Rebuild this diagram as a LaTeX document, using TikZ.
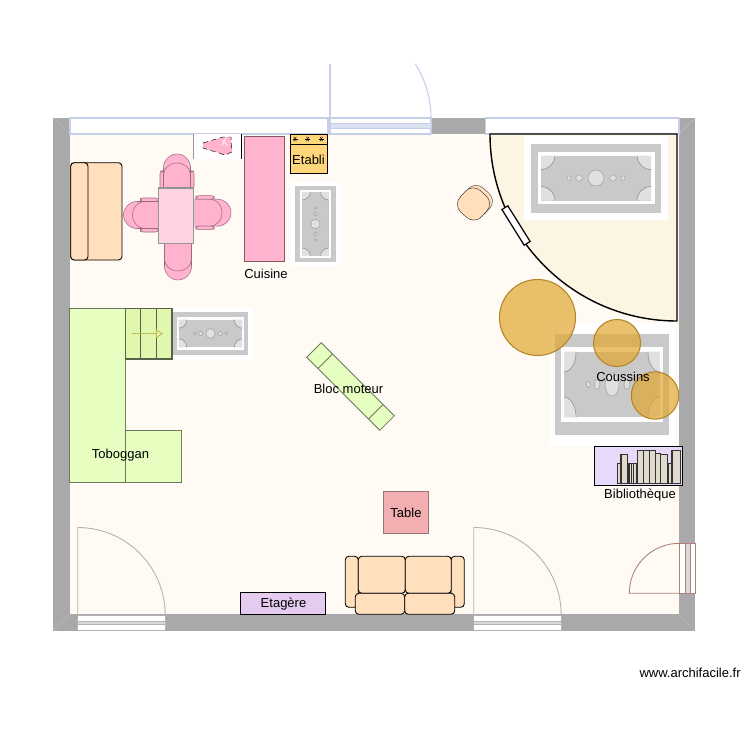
\documentclass[tikz,border=0pt]{standalone}
\usepackage{fontspec}
\setmainfont{Liberation Sans}
\usetikzlibrary{arrows.meta}
\definecolor{wallgray}{HTML}{A9A9A9}
\definecolor{floorcol}{HTML}{FFFAF3}
\definecolor{sofacol}{HTML}{FFDFBC}
\definecolor{pinkcol}{HTML}{FFB3CE}
\definecolor{tablepink}{HTML}{FFD3DF}
\definecolor{greencol}{HTML}{E6FFC1}
\definecolor{stepcol}{HTML}{E2F7AE}
\definecolor{greenline}{HTML}{6E7B5A}
\definecolor{bluecol}{HTML}{C5CFE8}
\definecolor{goldcol}{HTML}{E0A631}
\definecolor{partcol}{HTML}{FCF5E4}
\definecolor{benchcol}{HTML}{FFD77A}
\definecolor{redtable}{HTML}{F2AEB0}
\definecolor{shelfcol}{HTML}{E5CBF0}
\definecolor{bookcase}{HTML}{E6D9FA}
\definecolor{bookcol}{HTML}{E0DACC}
\definecolor{browncol}{HTML}{AD8379}

\newcommand{\rug}[5]{
\begin{scope}[shift={(#1,#2)},rotate=#5,xscale=#3,yscale=#4]
\fill[white] (-72,-42) rectangle (72,42);
\fill[black!21] (-65,-34.5) rectangle (65,34.5);
\fill[white] (-58.5,-26) rectangle (58.5,26);
\fill[black!21] (-55,-22.5) rectangle (55,22.5);
\foreach \u in {-1,1}
  \foreach \v in {-1,1}{
    \fill[black!12,xscale=\u,yscale=\v] (55,22.5) -- (41,22.5) arc (180:270:14) -- cycle;
    \draw[black!45,line width=0.3pt,xscale=\u,yscale=\v] (41,22.5) arc (180:270:14);
  }
\draw[rugline] (0,0) circle (8);
\foreach \u in {-1,1}{
  \draw[rugline] (\u*17,0) circle (3.3);
  \draw[rugline] (\u*27,0) circle (2.2);
}
\end{scope}
}

\newcommand{\chair}[3]{
\begin{scope}[shift={(#1,#2)},rotate=#3]
\draw[chairline] (-13.5,18) -- (-13.5,-4.5) arc (180:360:13.5) -- (13.5,18) -- cycle;
\draw[chairline] (-13.5,18) -- (-13.5,3) arc (180:360:13.5 and 12) -- (13.5,18);
\end{scope}
}

\newcommand{\chairarms}[3]{
\begin{scope}[shift={(#1,#2)},rotate=#3]
\draw[chairline,rounded corners=1.5] (-17,-1) rectangle (-13.5,17);
\draw[chairline,rounded corners=1.5] (13.5,-1) rectangle (17,17);
\end{scope}
}

\begin{document}
\begin{tikzpicture}[x=0.02cm,y=0.02cm,yscale=-1,
wall/.style = {fill=wallgray},
door/.style = {line width=0.5pt,draw=black!30},
sofa/.style = {fill=sofacol,draw=black,line width=0.5pt,rounded corners=2},
rugline/.style = {draw=black!40,fill=black!12,line width=0.25pt},
chairline/.style = {fill=pinkcol,draw=pinkcol!60!black,line width=0.3pt},
green/.style = {fill=greencol,draw=greenline,line width=0.5pt},
label/.style = {inner sep=0pt,font=\fontsize{7.4}{8}\selectfont},
cushion/.style = {fill=goldcol,fill opacity=0.7,draw=goldcol!80!black,line width=0.6pt}]
\useasboundingbox (0,0) rectangle (750,750);
\fill[white] (0,0) rectangle (750,750);

\fill[wall] (53,118) rectangle (695,631);
\fill[floorcol] (70,134) rectangle (679,614);
\foreach \a/\b/\c/\d in {53/118/70/134,695/118/679/134,53/631/70/614,695/631/679/614}
  \draw[black!27,line width=0.3pt] (\a,\b) -- (\c,\d);

\draw[fill=white,draw=bluecol,line width=0.6pt] (70,118) rectangle (328,134);
\draw[fill=white,draw=bluecol,line width=0.6pt] (485.5,118) rectangle (679,134);
\draw[fill=white,draw=bluecol,line width=0.6pt] (330,118) rectangle (431,134);
\draw[fill=bluecol!60,draw=bluecol,line width=0.4pt] (330,123) rectangle (431,128.5);
\draw[bluecol,line width=0.6pt] (330,118) -- (330,64);
\draw[bluecol,line width=0.6pt] (431,118) arc (0:-32.3:101);

\draw[fill=white,door] (77.7,615) rectangle (165,630.3);
\draw[fill=black!15,door] (77.7,621.3) rectangle (165,624.3);
\draw[door] (77.7,615) -- (77.7,527.5) arc (-90:0:87.5);
\draw[fill=white,door] (473.7,615) rectangle (561,630.3);
\draw[fill=black!15,door] (473.7,621.3) rectangle (561,624.3);
\draw[door] (473.7,615) -- (473.7,527.5) arc (-90:0:87.5);

\draw[fill=white,draw=browncol,line width=0.5pt] (679.3,543.3) rectangle (695.3,593.3);
\draw[fill=black!15,draw=browncol,line width=0.4pt] (685,543.3) rectangle (690,593.3);
\draw[browncol,line width=0.5pt] (679.3,593.3) -- (629.3,593.3) arc (180:270:50);

\draw[fill=partcol,line width=0.8pt] (490,134) -- (677,134) -- (677,321) arc (90:180:187) -- cycle;
\draw[fill=white,line width=0.7pt,rotate around={58:(516,225.5)}] (495,222) rectangle (537,229);

\rug{596}{178}{1}{1}{0}
\rug{315.5}{224}{0.585}{0.595}{90}
\rug{210.5}{333.5}{0.58}{0.62}{0}
\rug{612}{384.5}{0.877}{1.46}{0}

\draw[sofa] (70.7,162.7) rectangle (122,260);
\draw[sofa] (70.7,162.7) rectangle (88,260);

\chair{177}{172}{0}
\chairarms{177}{172}{0}
\chair{178}{262}{180}
\chair{141.5}{215}{270}
\chairarms{141.5}{215}{270}
\chair{213}{212.7}{90}
\chairarms{213}{212.7}{90}
\draw[fill=tablepink,draw=black!42,line width=0.8pt] (158.7,188) rectangle (193.7,243.7);

\fill[white] (193,134) rectangle (241.5,159);
\draw[black!40,line width=0.3pt] (193,134) -- (193,159);
\draw[line width=0.4pt] (241.5,134) -- (241.5,159);
\draw[fill=pinkcol,line width=0.25pt,densely dashed] (203,143) -- (223,137) -- (231,137) -- (232,152) -- (225,155) -- (203,148) -- cycle;
\draw[white,line width=0.4pt] (222,140) -- (228,146) (226,138) -- (222,145);

\draw[fill=pinkcol,draw=pinkcol!50!black,line width=0.6pt] (244.3,136.3) rectangle (284.7,261.7);
\node[label] (cuisine) at (266,274) {Cuisine};

\draw[fill=benchcol,line width=0.5pt] (290,134.3) rectangle (327,173.3);
\draw[line width=0.5pt] (290,144) -- (327,144);
\foreach \x in {295,307.7,321.3}
  \foreach \r in {0,60,120}
    \draw[line width=0.3pt,rotate around={\r:(\x,139)}] (\x-2.5,139) -- (\x+2.5,139);
\node[label] (etabli) at (308.5,160) {Etabli};

\draw[black!70,fill=sofacol,line width=0.25pt,rounded corners=6,rotate around={42:(477,200)}] (463,187) rectangle (492,215);
\draw[black!80,line width=0.25pt,rounded corners=6,fill=sofacol,rotate around={42:(473.5,204)}] (459,189.5) rectangle (488,218.5);

\draw[green] (69.3,308) rectangle (125.3,482.3);
\draw[green] (125.3,430) rectangle (181,482.7);
\draw[fill=stepcol,draw=greenline!80!black,line width=0.6pt] (125.3,308.3) rectangle (172,359);
\draw[greenline!80!black,line width=0.8pt] (140.7,308.3) -- (140.7,359) (156.3,308.3) -- (156.3,359);
\coordinate (stairstart) at (132,333.7);
\coordinate (stairend) at (163,333.7);
\draw[olive!55!white,line width=0.5pt,-{Triangle[open,length=4pt,width=5pt]}] (stairstart) -- (stairend);
\node[label] (toboggan) at (120.5,455.5) {Toboggan};

\begin{scope}[shift={(350.5,386.5)},rotate=45]
\draw[green] (-51.7,-10.25) rectangle (51.7,10.25);
\draw[green] (-35.7,-10.25) -- (-35.7,10.25) (35.7,-10.25) -- (35.7,10.25);
\end{scope}
\node[label] (bloc) at (348.5,388.5) {Bloc moteur};

\draw[fill=redtable,draw=black!35!redtable!70!gray,line width=0.5pt] (383.3,491.3) rectangle (428.7,533.7);
\node[label] (table) at (406,513) {Table};

\draw[sofa] (345.3,556.3) rectangle (358.3,607.3);
\draw[sofa] (451,556.3) rectangle (464.3,607.3);
\draw[sofa] (358.3,556.3) rectangle (405.3,593.3);
\draw[sofa] (405.3,556.3) rectangle (451.3,593.3);
\draw[sofa] (355.3,593.3) rectangle (404.7,614.3);
\draw[sofa] (404.7,593.3) rectangle (454.7,614.3);

\draw[fill=shelfcol,line width=0.5pt] (240.3,592.3) rectangle (325.7,614.7);
\node[label] (etagere) at (283.5,604) {Etagère};

\draw[cushion] (537.5,317.5) circle (38);
\draw[cushion] (617,343) circle (23.5);
\draw[cushion] (655,395.5) circle (23.7);
\node[label] (coussins) at (623,377) {Coussins};

\draw[fill=bookcase,line width=0.5pt] (594.3,446.7) rectangle (682.7,485);
\foreach \l/\r/\t in {382/392/580,393/413/553,417/424/580,424/431/580,431/439/580,442/461/541,461/478/541,478/497/541,497/512/550,512/532/553,534/546/580,546/572/541}
  \draw[fill=bookcol,draw=black!80,line width=0.8pt] ({490+\l/3},{270+\t/3}) rectangle ({490+\r/3},483.7);
\node[label] (biblio) at (640,495.5) {Bibliothèque};

\node[label,anchor=east] (site) at (741,673) {www.archifacile.fr};
\end{tikzpicture}
\end{document}
